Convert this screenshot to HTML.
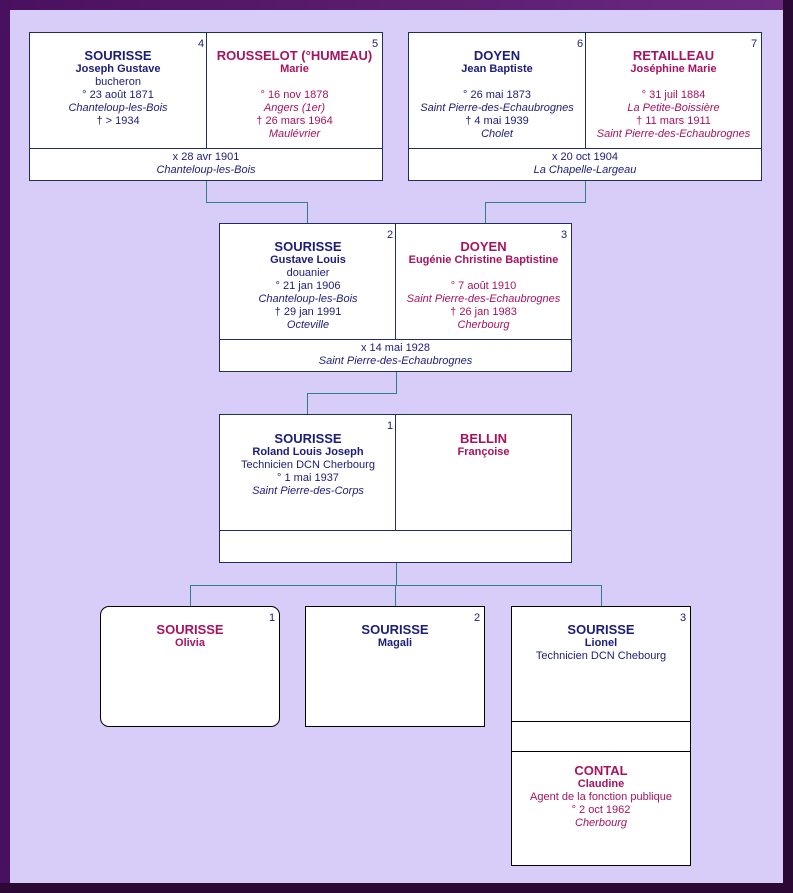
<!DOCTYPE html>
<html><head><meta charset="utf-8"><style>
body{margin:0;width:793px;height:893px;overflow:hidden;font-family:"Liberation Sans",Arial,sans-serif;}
#f{position:absolute;left:0;top:0;width:793px;height:893px;background:#2a0a35;}
#tl{position:absolute;left:0;top:0;width:783px;height:883px;background:linear-gradient(90deg,#4a1060,#6a2a80);}
#in{position:absolute;left:10px;top:10px;width:773px;height:873px;background:#d8ccf9;}
.b{position:absolute;background:#fff;border:1px solid #1e2e5e;box-sizing:border-box;}
.k{border-color:#000;}
.l{position:absolute;background:#1e2e5e;}
.c{position:absolute;background:#2e7f86;}
.t{position:absolute;text-align:center;font-size:11px;line-height:13px;}
.t b.n{font-size:13px;line-height:15px;display:block;}
.t b{font-size:11px;}
.m{color:#1c1c7a}.f{color:#a8135f}
.num{position:absolute;font-size:11px;color:#1c1c7a;}
i{font-style:italic}
</style></head><body>
<div id="f"></div><div id="tl"></div><div id="in"></div>

<!-- connectors -->
<div class="c" style="left:206px;top:180px;width:1px;height:22px"></div>
<div class="c" style="left:206px;top:202px;width:101px;height:1px"></div>
<div class="c" style="left:307px;top:202px;width:1px;height:21px"></div>
<div class="c" style="left:585px;top:180px;width:1px;height:22px"></div>
<div class="c" style="left:485px;top:202px;width:101px;height:1px"></div>
<div class="c" style="left:485px;top:202px;width:1px;height:21px"></div>
<div class="c" style="left:396px;top:371px;width:1px;height:22px"></div>
<div class="c" style="left:307px;top:393px;width:90px;height:1px"></div>
<div class="c" style="left:307px;top:393px;width:1px;height:22px"></div>
<div class="c" style="left:396px;top:562px;width:1px;height:23px"></div>
<div class="c" style="left:190px;top:585px;width:412px;height:1px"></div>
<div class="c" style="left:190px;top:585px;width:1px;height:21px"></div>
<div class="c" style="left:395px;top:585px;width:1px;height:21px"></div>
<div class="c" style="left:601px;top:585px;width:1px;height:21px"></div>

<!-- Box A -->
<div class="b" style="left:29px;top:32px;width:354px;height:149px"></div>
<div class="l" style="left:206px;top:33px;width:1px;height:116px"></div>
<div class="l" style="left:30px;top:148px;width:352px;height:1px"></div>
<div class="num" style="left:198px;top:38px">4</div>
<div class="num" style="left:372px;top:38px">5</div>
<div class="t m" style="left:30px;top:48px;width:176px"><b class="n">SOURISSE</b><b>Joseph Gustave</b><br>bucheron<br>° 23 août 1871<br><i>Chanteloup-les-Bois</i><br>† &gt; 1934</div>
<div class="t f" style="left:207px;top:48px;width:175px"><b class="n">ROUSSELOT (°HUMEAU)</b><b>Marie</b><br>&nbsp;<br>° 16 nov 1878<br><i>Angers (1er)</i><br>† 26 mars 1964<br><i>Maulévrier</i></div>
<div class="t m" style="left:30px;top:151px;width:352px">x 28 avr 1901<br><i>Chanteloup-les-Bois</i></div>

<!-- Box B -->
<div class="b" style="left:408px;top:32px;width:354px;height:149px"></div>
<div class="l" style="left:585px;top:33px;width:1px;height:116px"></div>
<div class="l" style="left:409px;top:148px;width:352px;height:1px"></div>
<div class="num" style="left:577px;top:38px">6</div>
<div class="num" style="left:751px;top:38px">7</div>
<div class="t m" style="left:409px;top:48px;width:176px"><b class="n">DOYEN</b><b>Jean Baptiste</b><br>&nbsp;<br>° 26 mai 1873<br><i>Saint Pierre-des-Echaubrognes</i><br>† 4 mai 1939<br><i>Cholet</i></div>
<div class="t f" style="left:586px;top:48px;width:175px"><b class="n">RETAILLEAU</b><b>Joséphine Marie</b><br>&nbsp;<br>° 31 juil 1884<br><i>La Petite-Boissière</i><br>† 11 mars 1911<br><i>Saint Pierre-des-Echaubrognes</i></div>
<div class="t m" style="left:409px;top:151px;width:352px">x 20 oct 1904<br><i>La Chapelle-Largeau</i></div>

<!-- Box C -->
<div class="b" style="left:219px;top:223px;width:353px;height:149px"></div>
<div class="l" style="left:395px;top:224px;width:1px;height:116px"></div>
<div class="l" style="left:220px;top:339px;width:351px;height:1px"></div>
<div class="num" style="left:387px;top:229px">2</div>
<div class="num" style="left:561px;top:229px">3</div>
<div class="t m" style="left:220px;top:239px;width:176px"><b class="n">SOURISSE</b><b>Gustave Louis</b><br>douanier<br>° 21 jan 1906<br><i>Chanteloup-les-Bois</i><br>† 29 jan 1991<br><i>Octeville</i></div>
<div class="t f" style="left:396px;top:239px;width:175px"><b class="n">DOYEN</b><b>Eugénie Christine Baptistine</b><br>&nbsp;<br>° 7 août 1910<br><i>Saint Pierre-des-Echaubrognes</i><br>† 26 jan 1983<br><i>Cherbourg</i></div>
<div class="t m" style="left:220px;top:342px;width:351px">x 14 mai 1928<br><i>Saint Pierre-des-Echaubrognes</i></div>

<!-- Box D -->
<div class="b" style="left:219px;top:414px;width:353px;height:149px"></div>
<div class="l" style="left:395px;top:415px;width:1px;height:116px"></div>
<div class="l" style="left:220px;top:530px;width:351px;height:1px"></div>
<div class="num" style="left:387px;top:420px">1</div>
<div class="t m" style="left:220px;top:431px;width:176px"><b class="n">SOURISSE</b><b>Roland Louis Joseph</b><br>Technicien DCN Cherbourg<br>° 1 mai 1937<br><i>Saint Pierre-des-Corps</i></div>
<div class="t f" style="left:396px;top:431px;width:175px"><b class="n">BELLIN</b><b>Françoise</b></div>

<!-- Children -->
<div class="b k" style="left:100px;top:606px;width:180px;height:121px;border-radius:9px"></div>
<div class="num" style="left:269px;top:612px">1</div>
<div class="t f" style="left:100px;top:622px;width:180px"><b class="n">SOURISSE</b><b>Olivia</b></div>

<div class="b k" style="left:305px;top:606px;width:180px;height:121px"></div>
<div class="num" style="left:474px;top:612px">2</div>
<div class="t m" style="left:305px;top:622px;width:180px"><b class="n">SOURISSE</b><b>Magali</b></div>

<div class="b k" style="left:511px;top:606px;width:180px;height:260px"></div>
<div class="l" style="left:512px;top:721px;width:178px;height:1px;background:#000"></div>
<div class="l" style="left:512px;top:751px;width:178px;height:1px;background:#000"></div>
<div class="num" style="left:680px;top:612px">3</div>
<div class="t m" style="left:511px;top:622px;width:180px"><b class="n">SOURISSE</b><b>Lionel</b><br>Technicien DCN Chebourg</div>
<div class="t f" style="left:511px;top:763px;width:180px"><b class="n">CONTAL</b><b>Claudine</b><br>Agent de la fonction publique<br>° 2 oct 1962<br><i>Cherbourg</i></div>
</body></html>
